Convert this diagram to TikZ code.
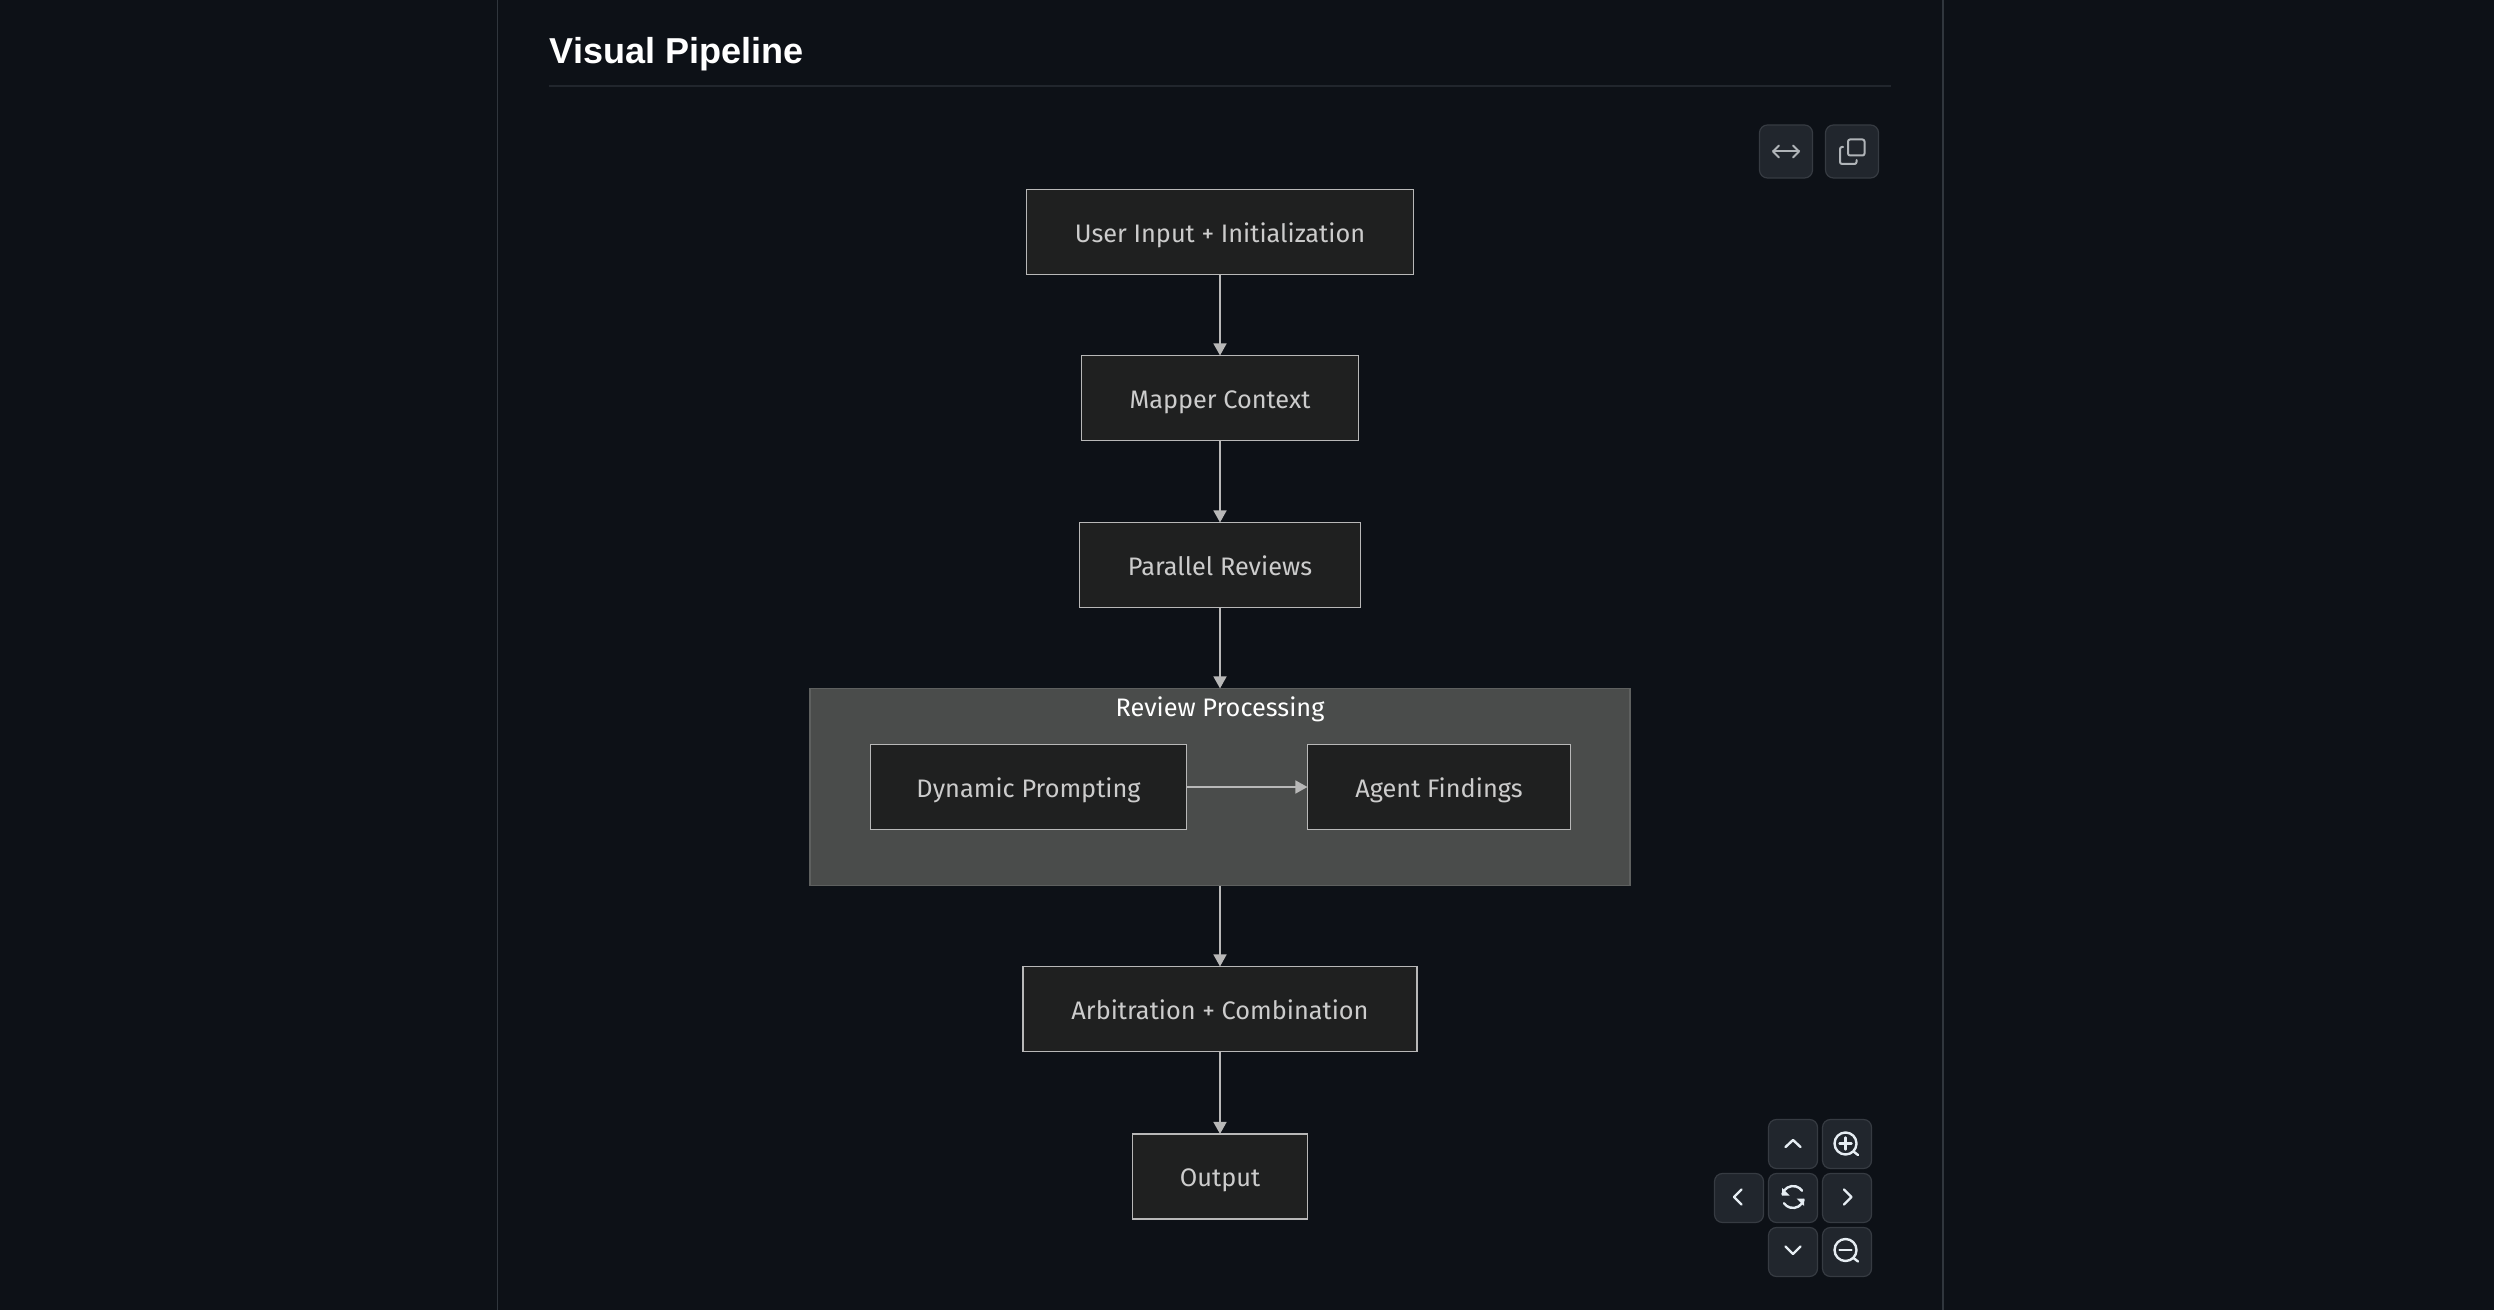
\documentclass[tikz,border=0pt]{standalone}
\usepackage{fontspec}
\setmainfont{Fira Sans}
\newfontfamily\titlefont{Liberation Sans}
\usepackage{xcolor}
\usetikzlibrary{arrows.meta}
\usetikzlibrary{positioning}
\definecolor{pagebg}{HTML}{0D1117}
\definecolor{panelline}{HTML}{30363D}
\definecolor{titlerule}{HTML}{21262D}
\definecolor{boxfill}{HTML}{1F2020}
\definecolor{boxline}{HTML}{B8B8B8}
\definecolor{boxtext}{HTML}{CCCCCC}
\definecolor{groupfill}{HTML}{4A4C4B}
\definecolor{groupline}{HTML}{5E605F}
\definecolor{btnfill}{HTML}{21262D}
\definecolor{btnline}{HTML}{363B42}
\definecolor{btnicon}{HTML}{E6EDF3}
\definecolor{smallicon}{HTML}{B0B4B8}
\tikzset{
  stagebox/.style={draw=boxline, line width=0.016cm, fill=boxfill, text=boxtext, font=\fontsize{7.2pt}{9pt}\selectfont, minimum height=0.85cm, inner sep=0pt, outer sep=0pt, text height=1.55ex, text depth=0.45ex},
  groupbox/.style={draw=groupline, line width=0.016cm, fill=groupfill, inner sep=0pt, outer sep=0pt},
  flowline/.style={draw=boxline, line width=0.016cm, -{Triangle[length=0.12cm,width=0.13cm,fill=boxline]}},
  btnbox/.style={draw=btnline, line width=0.012cm, fill=btnfill, rounded corners=0.08cm, inner sep=0pt, outer sep=0pt},
  navicon/.style={draw=btnicon, line width=0.024cm, line cap=round, line join=round},
  smallline/.style={draw=smallicon, line width=0.02cm, line cap=round, line join=round}
}
\begin{document}
\begin{tikzpicture}[x=0.01cm,y=-0.01cm]
    \fill[pagebg] (0,0) rectangle (2494,1310);
    \useasboundingbox (0,0) rectangle (2494,1310);
    %page frame and heading
    \draw[panelline, line width=0.015cm] (497.5,0) -- (497.5,1310);
    \draw[panelline, line width=0.015cm] (1943,0) -- (1943,1310);
    \draw[titlerule, line width=0.015cm] (549,86) -- (1891,86);
    \node[anchor=base west, inner sep=0pt, text=white, font=\titlefont\bfseries\fontsize{10.25pt}{13pt}\selectfont] (heading) at (549,64) {Visual Pipeline};
    %group behind the two inner stages
    \node[groupbox, minimum width=8.19cm, minimum height=1.97cm] (review) at (1220,787) {};
    \node[anchor=base, inner sep=0pt, text=white, font=\fontsize{7.2pt}{9pt}\selectfont] (reviewlabel) at (1220,716.5) {Review Processing};
    %stages
    \node[stagebox, minimum width=3.87cm] (user) at (1220,232) {User Input + Initialization};
    \node[stagebox, minimum width=2.77cm] (mapper) at (1220,398) {Mapper Context};
    \node[stagebox, minimum width=2.81cm] (parallel) at (1220,565) {Parallel Reviews};
    \node[stagebox, minimum width=3.16cm] (dynamic) at (1028.5,787) {Dynamic Prompting};
    \node[stagebox, minimum width=2.63cm] (agent) at (1439,787) {Agent Findings};
    \node[stagebox, minimum width=3.94cm] (arbitration) at (1220,1009) {Arbitration + Combination};
    \node[stagebox, minimum width=1.75cm] (output) at (1220,1176.5) {Output};
    %connectors
    \draw[flowline] (user) -- (mapper);
    \draw[flowline] (mapper) -- (parallel);
    \draw[flowline] (parallel) -- (review);
    \draw[flowline] (dynamic) -- (agent);
    \draw[flowline] (review) -- (arbitration);
    \draw[flowline] (arbitration) -- (output);
    %buttons at the top
    \node[btnbox, minimum width=0.53cm, minimum height=0.53cm] (widebtn) at (1786,151.5) {};
    \node[btnbox, minimum width=0.53cm, minimum height=0.53cm] (copybtn) at (1852,151.5) {};
    \draw[smallline] (1773,151.5) -- (1799,151.5);
    \draw[smallline] (1779,145.5) -- (1773,151.5) -- (1779,157.5);
    \draw[smallline] (1793,145.5) -- (1799,151.5) -- (1793,157.5);
    \draw[smallline, rounded corners=0.02cm] (1848,139.5) rectangle (1864.5,155.5);
    \draw[smallline, rounded corners=0.02cm] (1843,147) -- (1840,147) -- (1840,164) -- (1856.5,164) -- (1856.5,160);
    %buttons at the bottom
    \node[btnbox, minimum width=0.49cm, minimum height=0.49cm] (upbtn) at (1793,1144) {};
    \node[btnbox, minimum width=0.49cm, minimum height=0.49cm] (inbtn) at (1847,1144) {};
    \node[btnbox, minimum width=0.49cm, minimum height=0.49cm] (leftbtn) at (1739,1198) {};
    \node[btnbox, minimum width=0.49cm, minimum height=0.49cm] (resetbtn) at (1793,1198) {};
    \node[btnbox, minimum width=0.49cm, minimum height=0.49cm] (rightbtn) at (1847,1198) {};
    \node[btnbox, minimum width=0.49cm, minimum height=0.49cm] (downbtn) at (1793,1252) {};
    \node[btnbox, minimum width=0.49cm, minimum height=0.49cm] (outbtn) at (1847,1252) {};
    \draw[navicon] (1785.5,1147) -- (1793,1140) -- (1800.5,1147);
    \draw[navicon] (1785.5,1246.5) -- (1793,1254) -- (1800.5,1246.5);
    \draw[navicon] (1741.5,1189.5) -- (1734,1197) -- (1741.5,1204.5);
    \draw[navicon] (1844,1189.5) -- (1851.5,1197) -- (1844,1204.5);
    \draw[navicon] (1845.5,1143.5) circle (11);
    \draw[navicon] (1853.5,1151.5) -- (1858,1155);
    \draw[navicon] (1845.5,1137.5) -- (1845.5,1149.5);
    \draw[navicon] (1839.5,1143.5) -- (1851.5,1143.5);
    \draw[navicon] (1845.5,1250) circle (11);
    \draw[navicon] (1853.5,1258) -- (1858,1261.5);
    \draw[navicon] (1839.5,1250) -- (1851.5,1250);
    \draw[navicon] (1782.4,1194.2) arc[start angle=-165, end angle=-35, x radius=11, y radius=11];
    \draw[navicon] (1803.6,1199.8) arc[start angle=15, end angle=145, x radius=11, y radius=11];
    \fill[btnicon] (1782,1188) -- (1782,1195.5) -- (1789.5,1195.5) -- cycle;
    \fill[btnicon] (1804,1206) -- (1804,1198.5) -- (1796.5,1198.5) -- cycle;
\end{tikzpicture}
\end{document}
